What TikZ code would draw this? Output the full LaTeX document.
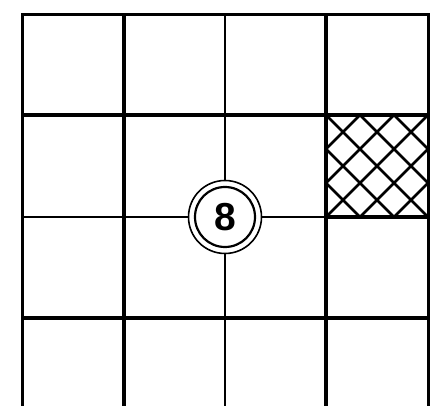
\documentclass[tikz,border=0pt]{standalone}
\usepackage{fontspec}
\newfontfamily\digitfont{Liberation Sans}
\begin{document}
\begin{tikzpicture}[x=1pt,y=-1pt,
  thickline/.style={line width=3.5pt},
  thinline/.style={line width=2pt},
  hatchline/.style={line width=2.6pt},
  ring/.style={circle,draw,line width=1.6pt,minimum size=73pt,inner sep=0pt}]
\useasboundingbox (0,0) rectangle (442,406);
% outer frame (open at bottom)
\draw[line width=3pt] (22,406) -- (22,15) -- (428,15) -- (428,406);
% verticals
\draw[thickline] (124,15) -- (124,406);
\draw[thickline] (326,15) -- (326,406);
% horizontals
\draw[thickline] (22,115) -- (428,115);
\draw[thickline] (22,318) -- (428,318);
% cross-hatched cell
\begin{scope}
\clip (326,115) rectangle (428,217);
\foreach \k in {-3,...,3}
  \draw[hatchline] (326+34*\k,115) -- (326+34*\k+102,217);
\foreach \k in {0,...,6}
  \draw[hatchline] (326+34*\k,115) -- (326+34*\k-102,217);
\end{scope}
\draw[thickline] (326,217) -- (428,217);
% center circle
\node[ring] (c) at (225,217) {};
\node[circle,draw,line width=2.2pt,minimum size=60pt,inner sep=0pt] (ci) at (225,217) {\digitfont\bfseries\fontsize{39}{40}\selectfont 8};
% middle thin lines
\draw[thinline] (225,15) -- (c.north);
\draw[thinline] (c.south) -- (225,406);
\draw[thinline] (22,217) -- (c.west);
\draw[thinline] (c.east) -- (326,217);
\end{tikzpicture}
\end{document}
